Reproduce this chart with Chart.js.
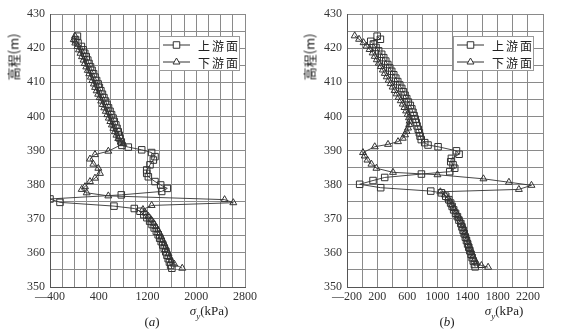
<!DOCTYPE html>
<html><head><meta charset="utf-8">
<script src="https://cdn.jsdelivr.net/npm/chart.js@4/dist/chart.umd.min.js"></script>
<style>
html,body{margin:0;padding:0;background:#fff;}
#wrap{position:relative;width:572px;height:333px;overflow:hidden;background:#fff;}
canvas{position:absolute;top:0;}
.lbl{position:absolute;font-family:"Liberation Serif",serif;color:#222;white-space:nowrap;transform:translate(-50%,-50%);font-size:13px;}
.yt{position:absolute;font-family:"Noto Sans CJK SC",sans-serif;font-weight:400;color:#111;white-space:nowrap;font-size:13px;transform:translate(-50%,-50%) rotate(-90deg);}
</style></head>
<body><div id="wrap">
<canvas id="ca" width="286" height="333" style="left:0"></canvas>
<canvas id="cb" width="286" height="333" style="left:286px"></canvas>
<div class="yt" style="left:13px;top:57px">高程(m)</div>
<div class="yt" style="left:309px;top:57px">高程(m)</div>
<div class="lbl" style="left:209px;top:312px"><i>σ</i><sub style="font-style:italic;font-size:9px">y</sub>(kPa)</div>
<div class="lbl" style="left:504px;top:312px"><i>σ</i><sub style="font-style:italic;font-size:9px">y</sub>(kPa)</div>
<div class="lbl" style="left:152px;top:322px">(<i>a</i>)</div>
<div class="lbl" style="left:447px;top:322px">(<i>b</i>)</div>
</div>
<script>
const seriesNames = ['上游面', '下游面'];
const elevRange = [350, 430];
const xRangeA = [-400, 2800];
const xRangeB = [-200, 2400];

// Chart (a) upstream face (squares)
const aUpElev = [423.5,422.5,421.5,420.5,419.5,418.5,417.5,416.5,415.5,414.5,413.5,412.5,411.5,410.5,409.5,408.5,407.5,406.5,405.5,404.5,403.5,402.5,401.5,400.5,399.5,398.5,397.5,396.5,395.5,394.5,393.5,392.5,391.5,
  391.0,390.2,389.4,388.2,387.2,385.8,384.3,383.3,382.3,380.9,379.9,378.9,378.0,377.0,375.8,374.8,373.7,373.0,372.2,
  371.2,370.3,369.3,368.3,367.3,366.3,365.3,364.3,363.3,362.3,361.3,360.3,359.3,358.3,357.3,356.3,355.5];
const aUpVal = [50,20,60,115,145,170,195,220,240,265,290,315,340,365,390,410,435,460,485,510,535,560,585,610,635,655,680,700,720,735,750,770,780,
  885,1105,1268,1323,1296,1241,1187,1187,1214,1323,1416,1525,1433,770,-400,-236,650,983,1077,
  1140,1190,1235,1275,1310,1345,1375,1400,1425,1450,1475,1500,1520,1540,1560,1580,1600];
// Chart (a) downstream face (triangles)
const aDnElev = [423.5,422.5,421.5,420.5,419.5,418.5,417.5,416.5,415.5,414.5,413.5,412.5,411.5,410.5,409.5,408.5,407.5,406.5,405.5,404.5,403.5,402.5,401.5,400.5,399.5,398.5,397.5,396.5,395.5,394.5,393.5,392.5,392.0,
  389.8,388.8,387.5,386.0,384.8,383.3,381.9,380.9,379.4,378.6,377.6,376.7,375.6,374.7,373.9,372.7,
  371.7,370.7,369.7,368.7,367.7,366.7,365.7,364.7,363.7,362.7,361.7,360.7,359.7,358.7,357.7,356.7,355.5];
const aDnVal = [10,-10,15,50,75,100,125,150,170,195,220,245,270,295,320,340,365,390,415,440,465,490,515,540,565,590,615,640,665,690,720,760,803,
  557,338,256,311,393,420,338,256,174,120,202,557,2465,2608,1268,1125,
  1165,1215,1260,1300,1335,1370,1400,1425,1450,1475,1500,1520,1545,1565,1590,1640,1770];

// Chart (b) upstream face (squares)
const bUpElev = [423.5,422.6,422.0,421.2,420.2,419.2,418.2,417.2,416.2,415.2,414.2,413.2,412.2,411.2,410.2,409.2,408.2,407.2,406.2,405.2,404.2,403.2,402.2,401.2,400.2,399.2,398.2,397.2,396.2,395.2,394.2,393.2,
  392.3,391.6,391.1,389.9,388.9,387.7,386.7,385.8,384.8,383.8,383.1,382.1,381.2,380.1,379.1,378.1,377.6,
  376.6,375.6,374.6,373.6,372.6,371.6,370.6,369.6,368.6,367.6,366.6,365.6,364.6,363.6,362.6,361.6,360.6,359.6,358.6,357.6,356.6,355.9];
const bUpVal = [200,243,115,150,185,220,260,287,314,341,367,393,420,447,473,500,526,548,570,592,614,640,660,675,690,705,718,730,745,760,770,785,
  831,875,1008,1252,1287,1185,1176,1207,1229,1163,787,300,145,-32,247,911,1052,
  1110,1150,1175,1195,1215,1240,1265,1285,1310,1325,1340,1355,1370,1385,1400,1415,1430,1445,1460,1475,1490,1500];
// Chart (b) downstream face (triangles)
const bDnElev = [423.6,422.6,421.6,420.6,419.6,418.6,417.6,416.6,415.6,414.6,413.6,412.6,411.6,410.6,409.6,408.6,407.6,406.6,405.6,404.6,403.6,402.6,401.6,400.6,399.6,398.6,397.6,396.6,395.6,394.6,393.6,392.6,
  391.8,391.1,389.4,388.4,387.2,386.0,384.8,383.6,382.9,381.7,380.7,379.8,378.6,377.9,
  377.0,376.0,375.0,374.0,373.0,372.0,371.0,370.0,369.0,368.0,367.0,366.0,365.0,364.0,363.0,362.0,361.0,360.0,359.0,358.0,357.0,356.3,355.8];
const bDnVal = [-98,-40,20,60,100,140,168,195,222,249,275,301,327,353,379,405,432,459,486,513,540,562,584,605,622,630,625,610,590,570,540,477,
  344,168,12,35,71,124,190,410,1000,1610,1948,2247,2080,1039,
  1100,1140,1170,1195,1220,1245,1270,1295,1315,1335,1350,1365,1380,1395,1410,1425,1440,1455,1470,1490,1520,1583,1672];

Chart.defaults.font.family = "'Liberation Serif', serif";
Chart.defaults.font.size = 12;
Chart.defaults.color = '#333';

const pts = (e, v) => e.map((y, i) => ({ x: v[i], y }));

const boxLegend = {
  id: 'boxLegend',
  afterDatasetsDraw(chart, args, opts) {
    const ca = chart.chartArea, ctx = chart.ctx;
    const w = 80, h = 34;
    const x = Math.round(ca.right - opts.inset - w), y = Math.round(ca.top + 22);
    ctx.save();
    ctx.fillStyle = '#fff';
    ctx.fillRect(x, y, w, h);
    ctx.strokeStyle = '#999';
    ctx.lineWidth = 1;
    ctx.strokeRect(x + 0.5, y + 0.5, w, h);
    chart.data.datasets.forEach((ds, i) => {
      const cy = y + 9 + i * 17;
      ctx.strokeStyle = '#333';
      ctx.lineWidth = 1;
      ctx.beginPath(); ctx.moveTo(x + 4, cy); ctx.lineTo(x + 31, cy); ctx.stroke();
      ctx.fillStyle = '#fff';
      Chart.helpers.drawPoint(ctx, { pointStyle: ds.pointStyle, radius: ds.pointRadius, borderWidth: 1, rotation: 0 }, x + 17.5, cy);
      ctx.fillStyle = '#222';
      ctx.font = '12px "Noto Sans CJK SC"';
      ctx.letterSpacing = '2px';
      ctx.textBaseline = 'middle';
      ctx.textAlign = 'left';
      ctx.fillText(ds.label, x + 39, cy + 1);
    });
    ctx.restore();
  }
};

function fmt(v) { return v < 0 ? '—' + Math.abs(v) : String(v); }

function makeChart(id, up, dn, xr, yAxisW, padRight, inset) {
  return new Chart(document.getElementById(id), {
    type: 'scatter',
    data: {
      datasets: [
        { label: seriesNames[0], data: up, showLine: true, borderColor: '#333', borderWidth: 0.9,
          pointStyle: 'rect', pointRadius: 4.6, pointBorderWidth: 1, pointBackgroundColor: 'rgba(255,255,255,0)', pointBorderColor: '#333' },
        { label: seriesNames[1], data: dn, showLine: true, borderColor: '#333', borderWidth: 0.9,
          pointStyle: 'triangle', pointRadius: 4, pointBorderWidth: 1, pointBackgroundColor: 'rgba(255,255,255,0)', pointBorderColor: '#333' }
      ]
    },
    options: {
      responsive: false, animation: false, devicePixelRatio: 1,
      layout: { padding: { top: 14, right: padRight, left: 0, bottom: 0 } },
      plugins: { legend: { display: false }, tooltip: { enabled: false }, boxLegend: { inset } },
      scales: {
        x: {
          type: 'linear', min: xr[0], max: xr[1],
          ticks: { stepSize: 200, autoSkip: false, maxRotation: 0, padding: 3, color: '#333',
            callback: (v) => { const r = Math.round(v); return ((r - xr[0]) % 400 === 0 && (xr[0] === -200 || (r - xr[0]) % 800 === 0)) ? fmt(r) : ''; } },
          grid: { color: '#8a8a8a', drawTicks: false, lineWidth: 1 },
          border: { color: '#555' },
          afterFit: (s) => { s.height = 46; }
        },
        y: {
          type: 'linear', min: elevRange[0], max: elevRange[1],
          ticks: { stepSize: 5, autoSkip: false, padding: 5, color: '#333',
            callback: (v) => (Math.round(v) % 10 === 0 ? String(Math.round(v)) : '') },
          grid: { color: '#8a8a8a', drawTicks: false, lineWidth: 1 },
          border: { color: '#555' },
          afterFit: (s) => { s.width = yAxisW; }
        }
      }
    },
    plugins: [boxLegend]
  });
}

makeChart('ca', pts(aUpElev, aUpVal), pts(aDnElev, aDnVal), xRangeA, 50, 41, 6);
makeChart('cb', pts(bUpElev, bUpVal), pts(bDnElev, bDnVal), xRangeB, 61, 29, 10);
</script>
</body></html>
